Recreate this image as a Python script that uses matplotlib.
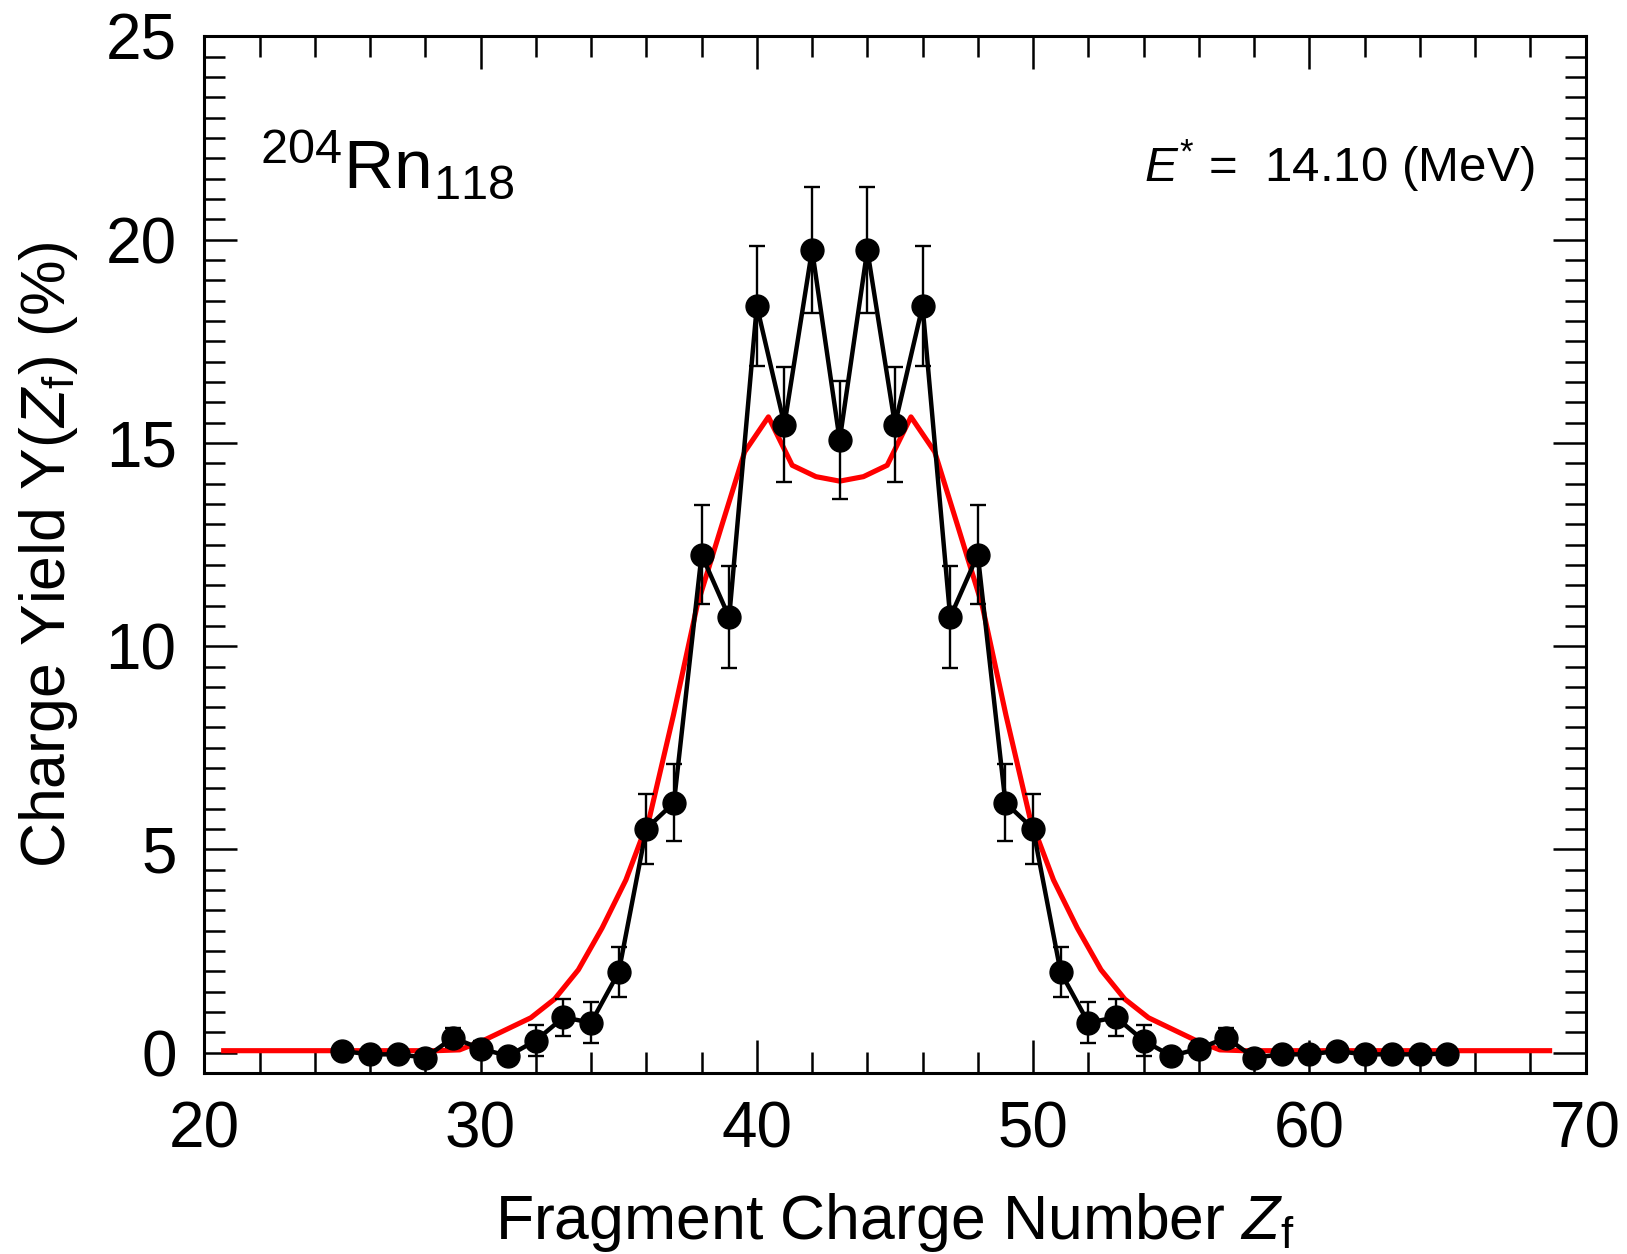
import matplotlib
matplotlib.use("Agg")
import matplotlib.pyplot as plt
from matplotlib.ticker import MultipleLocator

plt.rcParams['font.family'] = ['Liberation Sans', 'DejaVu Sans']
plt.rcParams['mathtext.fontset'] = 'custom'
plt.rcParams['mathtext.rm'] = 'Liberation Sans'
plt.rcParams['mathtext.it'] = 'Liberation Sans:italic'
plt.rcParams['mathtext.bf'] = 'Liberation Sans:bold'

# Experimental-like charge yields (black points)
z_frag = [25, 26, 27, 28, 29, 30, 31, 32, 33, 34, 35, 36, 37, 38, 39, 40, 41, 42, 43, 44, 45,
          46, 47, 48, 49, 50, 51, 52, 53, 54, 55, 56, 57, 58, 59, 60, 61, 62, 63, 64, 65]
yield_pct = [0.04, -0.04, -0.04, -0.12, 0.37, 0.10, -0.08, 0.30, 0.87, 0.74, 1.98, 5.51, 6.15,
             12.25, 10.71, 18.37, 15.45, 19.75, 15.07, 19.75, 15.45, 18.37, 10.71, 12.25, 6.15,
             5.51, 1.98, 0.74, 0.87, 0.30, -0.08, 0.10, 0.37, -0.12, -0.04, -0.04, 0.04, -0.04,
             -0.04, -0.04, -0.02]
yield_err = [0.12, 0.12, 0.12, 0.12, 0.23, 0.20, 0.12, 0.37, 0.45, 0.50, 0.62, 0.86, 0.94,
             1.22, 1.25, 1.47, 1.41, 1.55, 1.45, 1.55, 1.41, 1.47, 1.25, 1.22, 0.94,
             0.86, 0.62, 0.50, 0.45, 0.37, 0.12, 0.20, 0.23, 0.12, 0.12, 0.12, 0.12, 0.12,
             0.12, 0.12, 0.12]

# Theoretical curve (red)
z_theory = [20.70, 28.38, 29.24, 30.10, 30.96, 31.82, 32.68, 33.54, 34.40, 35.26, 36.12, 36.98,
            37.84, 38.70, 39.56, 40.42, 41.28, 42.14, 43.00, 43.86, 44.72, 45.58, 46.44,
            47.30, 48.16, 49.02, 49.88, 50.74, 51.60, 52.46, 53.32, 54.18, 55.04, 55.90,
            56.76, 57.62, 68.70]
yield_theory = [0.05, 0.05, 0.07, 0.30, 0.58, 0.86, 1.32, 2.04, 3.07, 4.25, 5.80, 8.30,
                11.00, 12.90, 14.78, 15.64, 14.45, 14.17, 14.06, 14.17, 14.45, 15.64, 14.78,
                12.90, 11.00, 8.30, 5.80, 4.25, 3.07, 2.04, 1.32, 0.86, 0.58, 0.30,
                0.07, 0.05, 0.05]

fig = plt.figure(figsize=(16.27, 12.54), dpi=100)
ax = fig.add_axes([0.1256, 0.1443, 0.8489, 0.8267])

ax.plot(z_theory, yield_theory, color='#ff0000', lw=3.7, zorder=2)
ax.errorbar(z_frag, yield_pct, yerr=yield_err, fmt='-o', color='black', lw=3.2,
            markersize=16.5, elinewidth=1.7, capsize=6, capthick=1.7, zorder=3)

ax.set_xlim(20, 70)
ax.set_ylim(-0.5, 25)
ax.xaxis.set_major_locator(MultipleLocator(10))
ax.xaxis.set_minor_locator(MultipleLocator(2))
ax.yaxis.set_major_locator(MultipleLocator(5))
ax.yaxis.set_minor_locator(MultipleLocator(0.5))
ax.tick_params(which='both', direction='in', top=True, right=True, width=1.8)
ax.tick_params(which='major', length=24, labelsize=46)
ax.tick_params(axis='x', which='major', pad=20)
ax.tick_params(axis='y', which='major', pad=20)
ax.tick_params(which='minor', length=15)
for s in ax.spines.values():
    s.set_linewidth(2.2)

ax.set_xlabel(r'Fragment Charge Number $\mathit{Z}_{\mathrm{f}}$', fontsize=45, labelpad=22)
ax.set_ylabel(r'Charge Yield Y($\mathit{Z}_{\mathrm{f}}$) (%)', fontsize=45, labelpad=18)

ax.text(0.04, 0.875, r'$^{204}$Rn$_{118}$', transform=ax.transAxes, fontsize=50,
        ha='left', va='center')
ax.text(0.963, 0.875, r'$\mathit{E}^{*}$ =  14.10 (MeV)', transform=ax.transAxes,
        fontsize=35.5, ha='right', va='center')

fig.savefig('out.png', dpi=100)
